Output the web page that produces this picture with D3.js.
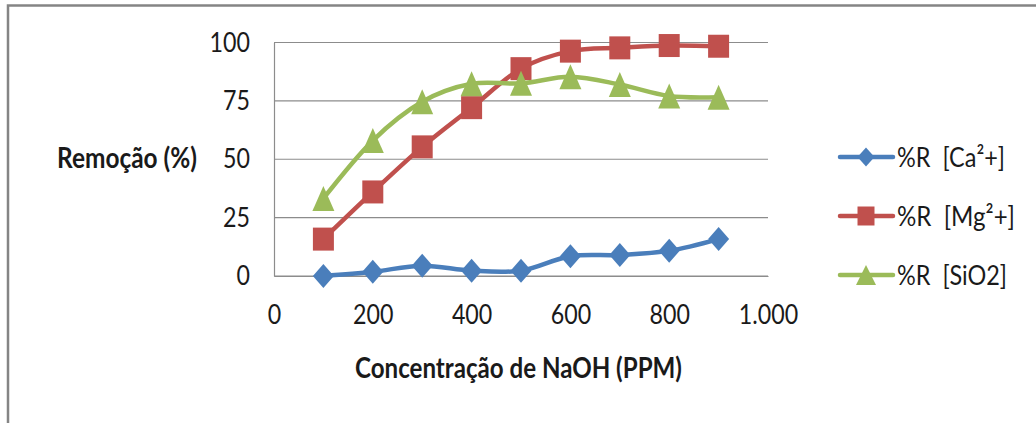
<!DOCTYPE html>
<html>
<head>
<meta charset="utf-8">
<script src="https://cdn.jsdelivr.net/npm/d3@7"></script>
<style>
  html, body { margin: 0; padding: 0; background: #ffffff; }
  svg { display: block; }
  text { font-family: Lato, "Open Sans", sans-serif; fill: #1a1a1a; }
</style>
</head>
<body>
<svg id="chart" width="1036" height="423"></svg>
<script>
// NaOH concentration (ppm) used in each test
const concentrations = [100, 200, 300, 400, 500, 600, 700, 800, 900];

// Removal percentages per species
const removalCa = [0, 1.8, 4.4, 2.3, 2.3, 8.5, 9.0, 10.8, 15.8];
const removalMg = [15.8, 36.0, 55.3, 72.1, 88.8, 96.3, 97.7, 98.7, 98.4];
const removalSiO2 = [33.2, 58.0, 74.6, 82.3, 82.5, 85.3, 82.0, 77.1, 76.6];

// Axis ticks
const xTicks = [0, 200, 400, 600, 800, 1000];
const yTicks = [0, 25, 50, 75, 100];

// Legend labels
const seriesLabels = ["%R  [Ca²+]", "%R  [Mg²+]", "%R  [SiO2]"];

const series = [
  { label: seriesLabels[0], values: removalCa, color: "#4a7ebb", marker: "diamond" },
  { label: seriesLabels[1], values: removalMg, color: "#c0504d", marker: "square" },
  { label: seriesLabels[2], values: removalSiO2, color: "#9bbb59", marker: "triangle" }
];

const svg = d3.select("#chart");

// Narrow a text element horizontally so it reads like a condensed face
function condense(sel, factor) {
  sel.each(function () {
    const w = this.getComputedTextLength();
    d3.select(this).attr("textLength", w * factor).attr("lengthAdjust", "spacingAndGlyphs");
  });
}

// Outer frame of the chart area
svg.append("rect")
  .attr("x", 8).attr("y", 5.5)
  .attr("width", 1100).attr("height", 500)
  .attr("fill", "none")
  .attr("stroke", "#858585")
  .attr("stroke-width", 2.5);

const x = d3.scaleLinear().domain([0, 1000]).range([274, 768]);
const y = d3.scaleLinear().domain([0, 100]).range([276, 42.5]);

const ptBR = d3.formatLocale({ decimal: ",", thousands: ".", grouping: [3], currency: ["R$", ""] });
const fmtX = ptBR.format(",");

// Horizontal gridlines
svg.append("g")
  .selectAll("line")
  .data(yTicks)
  .join("line")
  .attr("x1", x(0)).attr("x2", x(1000))
  .attr("y1", d => y(d)).attr("y2", d => y(d))
  .attr("stroke", "#8c8c8c")
  .attr("stroke-width", 1.2);

// Y axis
const yAxis = svg.append("g")
  .attr("transform", `translate(${x(0)},0)`)
  .call(d3.axisLeft(y).tickValues(yTicks).tickSize(0).tickPadding(24));
yAxis.select(".domain").attr("stroke", "#8c8c8c").attr("stroke-width", 1.2);
yAxis.selectAll("text")
  .attr("font-size", 27)
  .attr("fill", "#1a1a1a")
  .style("font-family", "Lato, 'Open Sans', sans-serif")
  .call(condense, 0.86);

// X axis (labels only)
const xAxis = svg.append("g")
  .attr("transform", `translate(0,${y(0)})`)
  .call(d3.axisBottom(x).tickValues(xTicks).tickSize(0).tickPadding(30).tickFormat(fmtX));
xAxis.select(".domain").attr("stroke", "#8c8c8c").attr("stroke-width", 1.2);
xAxis.selectAll("text")
  .attr("font-size", 27)
  .attr("dy", "0.66em")
  .attr("fill", "#1a1a1a")
  .style("font-family", "Lato, 'Open Sans', sans-serif")
  .call(condense, 0.86);

// Axis titles
svg.append("text")
  .attr("x", 57).attr("y", 168)
  .attr("font-size", 28)
  .attr("font-weight", "bold")
  .attr("textLength", 140)
  .attr("lengthAdjust", "spacingAndGlyphs")
  .text("Remoção (%)");

svg.append("text")
  .attr("x", 355).attr("y", 378)
  .attr("font-size", 28)
  .attr("font-weight", "bold")
  .attr("textLength", 327)
  .attr("lengthAdjust", "spacingAndGlyphs")
  .text("Concentração de NaOH (PPM)");

// Marker shapes
function markerPath(type, w, h) {
  const hw = w / 2, hh = h / 2;
  if (type === "diamond") return `M0,${-hh}L${hw},0L0,${hh}L${-hw},0Z`;
  if (type === "square") return `M${-hw},${-hh}H${hw}V${hh}H${-hw}Z`;
  return `M0,${-hh}L${hw},${hh}L${-hw},${hh}Z`;
}
const markerSize = {
  diamond: [21, 24],
  square: [21, 23],
  triangle: [22, 25]
};

const line = d3.line()
  .x((d, i) => x(concentrations[i]))
  .y(d => y(d))
  .curve(d3.curveCardinal.tension(0));

const plot = svg.append("g");
series.forEach(s => {
  const g = plot.append("g");
  g.append("path")
    .attr("d", line(s.values))
    .attr("fill", "none")
    .attr("stroke", s.color)
    .attr("stroke-width", 4.5)
    .attr("stroke-linejoin", "round")
    .attr("stroke-linecap", "round");
  const [mw, mh] = markerSize[s.marker];
  g.selectAll("path.mk")
    .data(s.values)
    .join("path")
    .attr("class", "mk")
    .attr("transform", (d, i) => `translate(${x(concentrations[i])},${y(d)})`)
    .attr("d", markerPath(s.marker, mw, mh))
    .attr("fill", s.color);
});

// Legend
const legendY = [157, 216, 275];
const legendWidths = [108, 118, 110];
const legend = svg.append("g");
series.forEach((s, i) => {
  const g = legend.append("g").attr("transform", `translate(0,${legendY[i]})`);
  g.append("line")
    .attr("x1", 840).attr("x2", 893)
    .attr("y1", 0).attr("y2", 0)
    .attr("stroke", s.color)
    .attr("stroke-width", 4.5)
    .attr("stroke-linecap", "round");
  const lw = s.marker === "triangle" ? 20 : 17;
  const lh = s.marker === "triangle" ? 20 : 19;
  g.append("path")
    .attr("transform", "translate(866,0)")
    .attr("d", markerPath(s.marker, lw, lh))
    .attr("fill", s.color);
  g.append("text")
    .attr("x", 897).attr("y", 0)
    .attr("dy", "0.36em")
    .attr("font-size", 27)
    .attr("textLength", legendWidths[i])
    .attr("lengthAdjust", "spacingAndGlyphs")
    .style("white-space", "pre")
    .text(s.label);
});
</script>
</body>
</html>
